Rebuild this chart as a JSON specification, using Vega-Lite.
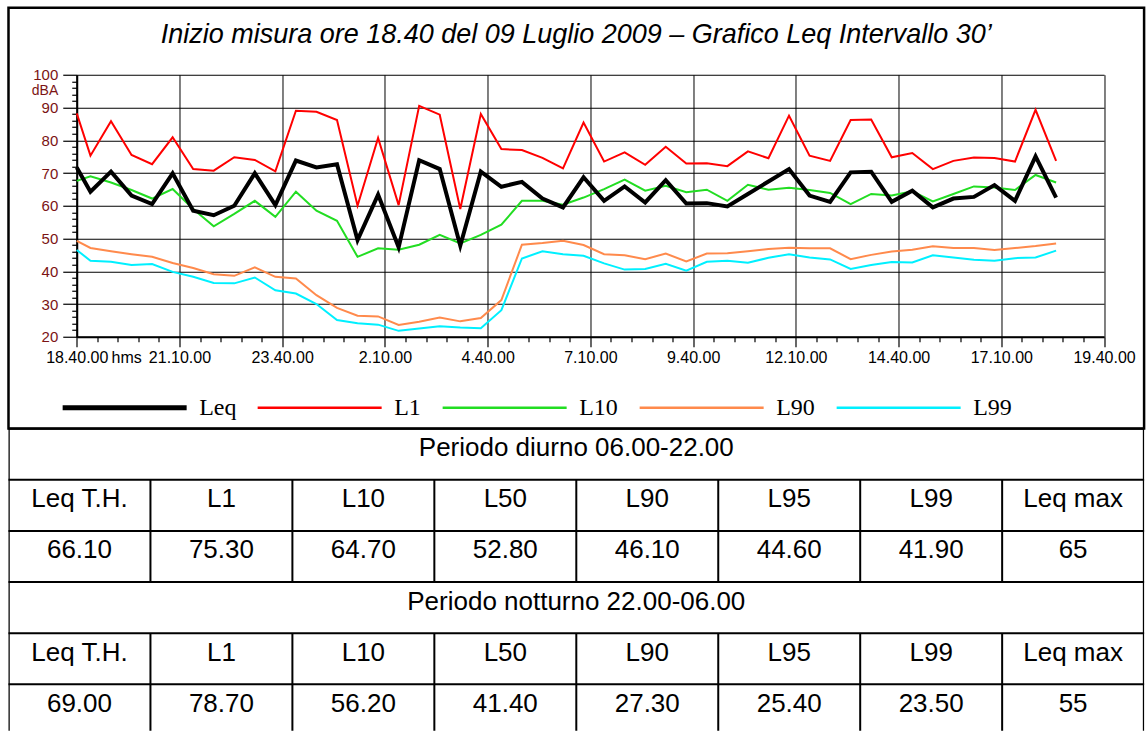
{
  "$schema": "https://vega.github.io/schema/vega-lite/v6.json",
  "padding": {"left": 6.5, "top": 5.75, "right": 0, "bottom": 0},
  "bounds": "flush",
  "spacing": 0,
  "config": {
    "view": {"stroke": null},
    "font": "Liberation Sans",
    "axis": {"grid": false, "domainColor": "#000", "tickColor": "#000", "labelColor": "#000", "labelOverlap": false, "labelFlush": false},
    "legend": {"padding": 0}
  },
  "vconcat": [
    {
      "width": 1135.6,
      "height": 420.7,
      "view": {"stroke": "#000", "strokeWidth": 2.5},
      "title": {"text": "Inizio misura ore 18.40 del 09 Luglio 2009 –  Grafico Leq Intervallo 30’", "font": "Liberation Sans", "fontSize": 27, "fontStyle": "italic", "fontWeight": "normal", "color": "#000", "anchor": "middle", "frame": "group", "baseline": "middle", "offset": -54},
      "data": {"values": [
        {"t": "2009-07-09T18:40:00", "Leq": 71.7, "L1": 88.2, "L10": 67.6, "L90": 49.3, "L99": 46.5},
        {"t": "2009-07-09T19:00:00", "Leq": 64.3, "L1": 75.3, "L10": 69.0, "L90": 47.1, "L99": 43.2},
        {"t": "2009-07-09T19:30:00", "Leq": 70.4, "L1": 85.8, "L10": 67.1, "L90": 46.1, "L99": 42.9},
        {"t": "2009-07-09T20:00:00", "Leq": 63.1, "L1": 75.5, "L10": 64.8, "L90": 45.2, "L99": 41.9},
        {"t": "2009-07-09T20:30:00", "Leq": 60.5, "L1": 72.7, "L10": 62.2, "L90": 44.4, "L99": 42.2},
        {"t": "2009-07-09T21:00:00", "Leq": 69.9, "L1": 80.9, "L10": 65.1, "L90": 42.5, "L99": 39.8},
        {"t": "2009-07-09T21:30:00", "Leq": 58.5, "L1": 71.2, "L10": 59.0, "L90": 41.0, "L99": 38.3},
        {"t": "2009-07-09T22:00:00", "Leq": 57.1, "L1": 70.7, "L10": 53.7, "L90": 39.1, "L99": 36.4},
        {"t": "2009-07-09T22:30:00", "Leq": 60.0, "L1": 74.8, "L10": 57.5, "L90": 38.6, "L99": 36.3},
        {"t": "2009-07-09T23:00:00", "Leq": 69.9, "L1": 74.0, "L10": 61.5, "L90": 41.2, "L99": 38.1},
        {"t": "2009-07-09T23:30:00", "Leq": 60.2, "L1": 70.5, "L10": 56.6, "L90": 38.3, "L99": 34.2},
        {"t": "2009-07-10T00:00:00", "Leq": 73.8, "L1": 89.0, "L10": 64.3, "L90": 37.8, "L99": 33.2},
        {"t": "2009-07-10T00:30:00", "Leq": 71.7, "L1": 88.7, "L10": 58.5, "L90": 32.7, "L99": 30.0},
        {"t": "2009-07-10T01:00:00", "Leq": 72.7, "L1": 86.2, "L10": 55.4, "L90": 28.8, "L99": 25.1},
        {"t": "2009-07-10T01:30:00", "Leq": 49.5, "L1": 60.0, "L10": 44.4, "L90": 26.4, "L99": 24.1},
        {"t": "2009-07-10T02:00:00", "Leq": 63.4, "L1": 80.7, "L10": 47.0, "L90": 26.2, "L99": 23.7},
        {"t": "2009-07-10T02:30:00", "Leq": 47.3, "L1": 60.2, "L10": 46.6, "L90": 23.6, "L99": 21.8},
        {"t": "2009-07-10T03:00:00", "Leq": 73.9, "L1": 90.5, "L10": 48.1, "L90": 24.6, "L99": 22.5},
        {"t": "2009-07-10T03:30:00", "Leq": 71.2, "L1": 87.8, "L10": 51.1, "L90": 25.9, "L99": 23.2},
        {"t": "2009-07-10T04:00:00", "Leq": 47.8, "L1": 59.0, "L10": 48.5, "L90": 24.7, "L99": 22.8},
        {"t": "2009-07-10T04:30:00", "Leq": 70.4, "L1": 88.0, "L10": 51.1, "L90": 25.7, "L99": 22.6},
        {"t": "2009-07-10T05:00:00", "Leq": 65.8, "L1": 77.3, "L10": 54.2, "L90": 31.2, "L99": 28.1},
        {"t": "2009-07-10T05:30:00", "Leq": 67.3, "L1": 77.0, "L10": 61.5, "L90": 48.1, "L99": 43.9},
        {"t": "2009-07-10T06:00:00", "Leq": 62.2, "L1": 74.6, "L10": 61.5, "L90": 48.6, "L99": 46.1},
        {"t": "2009-07-10T06:30:00", "Leq": 59.5, "L1": 71.4, "L10": 60.3, "L90": 49.3, "L99": 45.2},
        {"t": "2009-07-10T07:00:00", "Leq": 68.7, "L1": 85.4, "L10": 62.5, "L90": 48.0, "L99": 44.7},
        {"t": "2009-07-10T07:30:00", "Leq": 61.5, "L1": 73.5, "L10": 65.1, "L90": 45.2, "L99": 42.4},
        {"t": "2009-07-10T08:00:00", "Leq": 65.9, "L1": 76.3, "L10": 68.0, "L90": 44.9, "L99": 40.5},
        {"t": "2009-07-10T08:30:00", "Leq": 61.0, "L1": 72.5, "L10": 64.6, "L90": 43.7, "L99": 40.7},
        {"t": "2009-07-10T09:00:00", "Leq": 67.8, "L1": 78.0, "L10": 66.1, "L90": 45.4, "L99": 42.3},
        {"t": "2009-07-10T09:30:00", "Leq": 60.7, "L1": 72.9, "L10": 64.1, "L90": 43.0, "L99": 40.2},
        {"t": "2009-07-10T10:00:00", "Leq": 60.8, "L1": 73.0, "L10": 64.9, "L90": 45.4, "L99": 42.9},
        {"t": "2009-07-10T10:30:00", "Leq": 59.8, "L1": 72.1, "L10": 61.5, "L90": 45.5, "L99": 43.2},
        {"t": "2009-07-10T11:00:00", "Leq": 63.6, "L1": 76.6, "L10": 66.4, "L90": 46.1, "L99": 42.6},
        {"t": "2009-07-10T11:30:00", "Leq": 67.4, "L1": 74.5, "L10": 64.9, "L90": 46.8, "L99": 44.1},
        {"t": "2009-07-10T12:00:00", "Leq": 71.2, "L1": 87.5, "L10": 65.5, "L90": 47.2, "L99": 45.2},
        {"t": "2009-07-10T12:30:00", "Leq": 63.1, "L1": 75.3, "L10": 64.8, "L90": 47.0, "L99": 44.2},
        {"t": "2009-07-10T13:00:00", "Leq": 61.2, "L1": 73.7, "L10": 63.9, "L90": 47.0, "L99": 43.6},
        {"t": "2009-07-10T13:30:00", "Leq": 70.2, "L1": 86.2, "L10": 60.5, "L90": 43.7, "L99": 40.7},
        {"t": "2009-07-10T14:00:00", "Leq": 70.4, "L1": 86.3, "L10": 63.6, "L90": 45.0, "L99": 41.9},
        {"t": "2009-07-10T14:30:00", "Leq": 61.2, "L1": 74.8, "L10": 63.1, "L90": 46.0, "L99": 42.8},
        {"t": "2009-07-10T15:00:00", "Leq": 64.6, "L1": 76.1, "L10": 64.4, "L90": 46.6, "L99": 42.7},
        {"t": "2009-07-10T15:30:00", "Leq": 59.5, "L1": 71.2, "L10": 61.3, "L90": 47.6, "L99": 44.9},
        {"t": "2009-07-10T16:00:00", "Leq": 62.2, "L1": 73.7, "L10": 63.6, "L90": 47.1, "L99": 44.2},
        {"t": "2009-07-10T16:30:00", "Leq": 62.7, "L1": 74.7, "L10": 65.9, "L90": 47.1, "L99": 43.5},
        {"t": "2009-07-10T17:00:00", "Leq": 66.3, "L1": 74.6, "L10": 65.6, "L90": 46.5, "L99": 43.2},
        {"t": "2009-07-10T17:30:00", "Leq": 61.5, "L1": 73.5, "L10": 64.8, "L90": 47.1, "L99": 44.0},
        {"t": "2009-07-10T18:00:00", "Leq": 75.1, "L1": 89.3, "L10": 69.4, "L90": 47.7, "L99": 44.2},
        {"t": "2009-07-10T18:30:00", "Leq": 62.5, "L1": 73.7, "L10": 67.1, "L90": 48.5, "L99": 46.3}
      ]},
      "transform": [{"fold": ["L99", "L90", "L10", "L1", "Leq"], "as": ["serie", "dBA"]}],
      "layer": [
        {
          "mark": {"type": "point", "opacity": 0},
          "encoding": {
            "x": {"field": "t", "type": "temporal",
              "scale": {"domain": [{"year": 2009, "month": 7, "date": 9, "hours": 18, "minutes": 40}, {"year": 2009, "month": 7, "date": 10, "hours": 19, "minutes": 40}], "range": [68.25, 1095.55]},
              "axis": {"orient": "bottom", "offset": -91.7, "tickSize": -262, "tickWidth": 1, "labels": false, "domain": false, "title": null,
                "values": [
                  {"year": 2009, "month": 7, "date": 9, "hours": 18, "minutes": 40},
                  {"year": 2009, "month": 7, "date": 9, "hours": 21, "minutes": 10},
                  {"year": 2009, "month": 7, "date": 9, "hours": 23, "minutes": 40},
                  {"year": 2009, "month": 7, "date": 10, "hours": 2, "minutes": 10},
                  {"year": 2009, "month": 7, "date": 10, "hours": 4, "minutes": 40},
                  {"year": 2009, "month": 7, "date": 10, "hours": 7, "minutes": 10},
                  {"year": 2009, "month": 7, "date": 10, "hours": 9, "minutes": 40},
                  {"year": 2009, "month": 7, "date": 10, "hours": 12, "minutes": 10},
                  {"year": 2009, "month": 7, "date": 10, "hours": 14, "minutes": 40},
                  {"year": 2009, "month": 7, "date": 10, "hours": 17, "minutes": 10},
                  {"year": 2009, "month": 7, "date": 10, "hours": 19, "minutes": 40}
                ]}},
            "y": {"field": "dBA", "type": "quantitative",
              "scale": {"domain": [20, 100], "range": [329, 67], "nice": false, "zero": false},
              "axis": {"orient": "left", "offset": -68.25, "tickSize": -1027.3, "tickWidth": 1, "labels": false, "domain": false, "title": null,
                "values": [20, 30, 40, 50, 60, 70, 80, 90, 100]}}
          }
        },
        {
          "mark": {"type": "point", "opacity": 0},
          "encoding": {
            "x": {"field": "t", "type": "temporal",
              "scale": {"domain": [{"year": 2009, "month": 7, "date": 9, "hours": 18, "minutes": 40}, {"year": 2009, "month": 7, "date": 10, "hours": 19, "minutes": 40}], "range": [68.25, 1095.55]},
              "axis": {"orient": "bottom", "offset": -91.7, "tickSize": 5, "tickWidth": 1.2, "labels": false, "domain": false, "title": null,
                "values": [
                  {"year": 2009, "month": 7, "date": 9, "hours": 19, "minutes": 10},
                  {"year": 2009, "month": 7, "date": 9, "hours": 19, "minutes": 40},
                  {"year": 2009, "month": 7, "date": 9, "hours": 20, "minutes": 10},
                  {"year": 2009, "month": 7, "date": 9, "hours": 20, "minutes": 40},
                  {"year": 2009, "month": 7, "date": 9, "hours": 21, "minutes": 40},
                  {"year": 2009, "month": 7, "date": 9, "hours": 22, "minutes": 10},
                  {"year": 2009, "month": 7, "date": 9, "hours": 22, "minutes": 40},
                  {"year": 2009, "month": 7, "date": 9, "hours": 23, "minutes": 10},
                  {"year": 2009, "month": 7, "date": 10, "hours": 0, "minutes": 10},
                  {"year": 2009, "month": 7, "date": 10, "hours": 0, "minutes": 40},
                  {"year": 2009, "month": 7, "date": 10, "hours": 1, "minutes": 10},
                  {"year": 2009, "month": 7, "date": 10, "hours": 1, "minutes": 40},
                  {"year": 2009, "month": 7, "date": 10, "hours": 2, "minutes": 40},
                  {"year": 2009, "month": 7, "date": 10, "hours": 3, "minutes": 10},
                  {"year": 2009, "month": 7, "date": 10, "hours": 3, "minutes": 40},
                  {"year": 2009, "month": 7, "date": 10, "hours": 4, "minutes": 10},
                  {"year": 2009, "month": 7, "date": 10, "hours": 5, "minutes": 10},
                  {"year": 2009, "month": 7, "date": 10, "hours": 5, "minutes": 40},
                  {"year": 2009, "month": 7, "date": 10, "hours": 6, "minutes": 10},
                  {"year": 2009, "month": 7, "date": 10, "hours": 6, "minutes": 40},
                  {"year": 2009, "month": 7, "date": 10, "hours": 7, "minutes": 40},
                  {"year": 2009, "month": 7, "date": 10, "hours": 8, "minutes": 10},
                  {"year": 2009, "month": 7, "date": 10, "hours": 8, "minutes": 40},
                  {"year": 2009, "month": 7, "date": 10, "hours": 9, "minutes": 10},
                  {"year": 2009, "month": 7, "date": 10, "hours": 10, "minutes": 10},
                  {"year": 2009, "month": 7, "date": 10, "hours": 10, "minutes": 40},
                  {"year": 2009, "month": 7, "date": 10, "hours": 11, "minutes": 10},
                  {"year": 2009, "month": 7, "date": 10, "hours": 11, "minutes": 40},
                  {"year": 2009, "month": 7, "date": 10, "hours": 12, "minutes": 40},
                  {"year": 2009, "month": 7, "date": 10, "hours": 13, "minutes": 10},
                  {"year": 2009, "month": 7, "date": 10, "hours": 13, "minutes": 40},
                  {"year": 2009, "month": 7, "date": 10, "hours": 14, "minutes": 10},
                  {"year": 2009, "month": 7, "date": 10, "hours": 15, "minutes": 10},
                  {"year": 2009, "month": 7, "date": 10, "hours": 15, "minutes": 40},
                  {"year": 2009, "month": 7, "date": 10, "hours": 16, "minutes": 10},
                  {"year": 2009, "month": 7, "date": 10, "hours": 16, "minutes": 40},
                  {"year": 2009, "month": 7, "date": 10, "hours": 17, "minutes": 40},
                  {"year": 2009, "month": 7, "date": 10, "hours": 18, "minutes": 10},
                  {"year": 2009, "month": 7, "date": 10, "hours": 18, "minutes": 40},
                  {"year": 2009, "month": 7, "date": 10, "hours": 19, "minutes": 10}
                ]}},
            "y": {"field": "dBA", "type": "quantitative",
              "scale": {"domain": [20, 100], "range": [329, 67], "nice": false, "zero": false},
              "axis": {"orient": "left", "offset": -68.25, "tickSize": 5, "tickWidth": 1.2, "labels": false, "domain": false, "title": null,
                "values": [22, 24, 26, 28, 32, 34, 36, 38, 42, 44, 46, 48, 52, 54, 56, 58, 62, 64, 66, 68, 72, 74, 76, 78, 82, 84, 86, 88, 92, 94, 96, 98]}}
          }
        },
        {
          "mark": {"type": "line"},
          "encoding": {
            "x": {"field": "t", "type": "temporal",
              "scale": {"domain": [{"year": 2009, "month": 7, "date": 9, "hours": 18, "minutes": 40}, {"year": 2009, "month": 7, "date": 10, "hours": 19, "minutes": 40}], "range": [68.25, 1095.55]},
              "axis": {"orient": "bottom", "offset": -91.7, "format": "%-H.%M.%S", "tickSize": 10, "tickWidth": 1.2, "domainWidth": 2, "labelFontSize": 16, "labelPadding": 3, "labelColor": "#000",
                "title": "hms", "titleFontSize": 16, "titleFontWeight": "normal", "titleColor": "#000", "titleX": 102.5, "titleY": 13, "titleAlign": "left", "titleBaseline": "top",
                "values": [
                  {"year": 2009, "month": 7, "date": 9, "hours": 18, "minutes": 40},
                  {"year": 2009, "month": 7, "date": 9, "hours": 21, "minutes": 10},
                  {"year": 2009, "month": 7, "date": 9, "hours": 23, "minutes": 40},
                  {"year": 2009, "month": 7, "date": 10, "hours": 2, "minutes": 10},
                  {"year": 2009, "month": 7, "date": 10, "hours": 4, "minutes": 40},
                  {"year": 2009, "month": 7, "date": 10, "hours": 7, "minutes": 10},
                  {"year": 2009, "month": 7, "date": 10, "hours": 9, "minutes": 40},
                  {"year": 2009, "month": 7, "date": 10, "hours": 12, "minutes": 10},
                  {"year": 2009, "month": 7, "date": 10, "hours": 14, "minutes": 40},
                  {"year": 2009, "month": 7, "date": 10, "hours": 17, "minutes": 10},
                  {"year": 2009, "month": 7, "date": 10, "hours": 19, "minutes": 40}
                ]}},
            "y": {"field": "dBA", "type": "quantitative",
              "scale": {"domain": [20, 100], "range": [329, 67], "nice": false, "zero": false},
              "axis": {"orient": "left", "offset": -68.25, "values": [20, 30, 40, 50, 60, 70, 80, 90, 100], "tickSize": 14, "tickWidth": 1.2, "domainWidth": 2, "labelFontSize": 15, "labelPadding": 5, "labelColor": "#7b1414",
                "title": "dBA", "titleColor": "#7b1414", "titleFontSize": 14, "titleFontWeight": "normal", "titleAngle": 0, "titleX": -19, "titleY": 82.5, "titleAlign": "right", "titleBaseline": "middle"}},
            "color": {"field": "serie", "type": "nominal",
              "scale": {"domain": ["Leq", "L1", "L10", "L90", "L99"], "range": ["#000000", "#ff0000", "#22dd22", "#ff8a4c", "#00f0ff"]},
              "legend": {"orient": "none", "legendX": 104.15, "legendY": 388, "direction": "horizontal", "title": null, "symbolType": "stroke", "symbolSize": 15376, "symbolStrokeWidth": 2.5,
                "labelFont": "Liberation Serif", "labelFontSize": 24, "labelColor": "#000", "labelOffset": 62.5, "columnPadding": 16, "labelLimit": 0,
                "encode": {"symbols": {"update": {
                  "stroke": {"signal": "datum.value === 'Leq' ? '#000000' : datum.value === 'L1' ? '#ff0000' : datum.value === 'L10' ? '#92d050' : datum.value === 'L90' ? '#f79646' : '#00b0f0'"},
                  "strokeWidth": {"signal": "datum.value === 'Leq' ? 5 : 2.5"}
                }}}}},
            "strokeWidth": {"condition": {"test": "datum.serie === 'Leq'", "value": 4}, "value": 2}
          }
        }
      ],
      "resolve": {"axis": {"x": "independent", "y": "independent"}}
    },
    {
      "width": 1135.6,
      "height": 302,
      "view": {"stroke": null},
      "layer": [
        {
          "data": {"values": [
            {"row": 0, "c1": 0, "c2": 8}, {"row": 1, "c1": 0, "c2": 8}, {"row": 2, "c1": 0, "c2": 8},
            {"row": 3, "c1": 0, "c2": 8}, {"row": 4, "c1": 0, "c2": 8}, {"row": 5, "c1": 0, "c2": 8}
          ]},
          "mark": {"type": "rule", "color": "#000", "strokeWidth": 2},
          "encoding": {
            "y": {"field": "row", "type": "quantitative", "scale": {"domain": [0, 5.91], "reverse": true, "nice": false, "zero": false}, "axis": null},
            "x": {"field": "c1", "type": "quantitative", "scale": {"domain": [0, 8], "nice": false}, "axis": null},
            "x2": {"field": "c2"}
          }
        },
        {
          "data": {"values": [
            {"col": 0, "r1": 0, "r2": 6}, {"col": 8, "r1": 0, "r2": 6}
          ]},
          "mark": {"type": "rule", "color": "#000", "strokeWidth": 2.5, "clip": true},
          "encoding": {
            "x": {"field": "col", "type": "quantitative", "scale": {"domain": [0, 8], "nice": false}, "axis": null},
            "y": {"field": "r1", "type": "quantitative", "scale": {"domain": [0, 5.91], "reverse": true, "nice": false, "zero": false}, "axis": null},
            "y2": {"field": "r2"}
          }
        },
        {
          "data": {"values": [
            {"col": 1, "r1": 1, "r2": 3}, {"col": 2, "r1": 1, "r2": 3}, {"col": 3, "r1": 1, "r2": 3}, {"col": 4, "r1": 1, "r2": 3},
            {"col": 5, "r1": 1, "r2": 3}, {"col": 6, "r1": 1, "r2": 3}, {"col": 7, "r1": 1, "r2": 3},
            {"col": 1, "r1": 4, "r2": 6}, {"col": 2, "r1": 4, "r2": 6}, {"col": 3, "r1": 4, "r2": 6}, {"col": 4, "r1": 4, "r2": 6},
            {"col": 5, "r1": 4, "r2": 6}, {"col": 6, "r1": 4, "r2": 6}, {"col": 7, "r1": 4, "r2": 6}
          ]},
          "mark": {"type": "rule", "color": "#000", "strokeWidth": 2, "clip": true},
          "encoding": {
            "x": {"field": "col", "type": "quantitative", "scale": {"domain": [0, 8], "nice": false}, "axis": null},
            "y": {"field": "r1", "type": "quantitative", "scale": {"domain": [0, 5.91], "reverse": true, "nice": false, "zero": false}, "axis": null},
            "y2": {"field": "r2"}
          }
        },
        {
          "data": {"values": [
            {"row": 0, "text": "Periodo diurno 06.00-22.00"},
            {"row": 3, "text": "Periodo notturno 22.00-06.00"}
          ]},
          "mark": {"type": "text", "font": "Liberation Sans", "fontSize": 26, "color": "#000", "align": "center", "baseline": "middle", "dy": 19.5},
          "encoding": {
            "y": {"field": "row", "type": "quantitative", "scale": {"domain": [0, 5.91], "reverse": true, "nice": false, "zero": false}, "axis": null},
            "text": {"field": "text"}
          }
        },
        {
          "data": {"values": [
            {"row": 1, "col": 0, "text": "Leq T.H."}, {"row": 1, "col": 1, "text": "L1"}, {"row": 1, "col": 2, "text": "L10"}, {"row": 1, "col": 3, "text": "L50"},
            {"row": 1, "col": 4, "text": "L90"}, {"row": 1, "col": 5, "text": "L95"}, {"row": 1, "col": 6, "text": "L99"}, {"row": 1, "col": 7, "text": "Leq max"},
            {"row": 2, "col": 0, "text": "66.10"}, {"row": 2, "col": 1, "text": "75.30"}, {"row": 2, "col": 2, "text": "64.70"}, {"row": 2, "col": 3, "text": "52.80"},
            {"row": 2, "col": 4, "text": "46.10"}, {"row": 2, "col": 5, "text": "44.60"}, {"row": 2, "col": 6, "text": "41.90"}, {"row": 2, "col": 7, "text": "65"},
            {"row": 4, "col": 0, "text": "Leq T.H."}, {"row": 4, "col": 1, "text": "L1"}, {"row": 4, "col": 2, "text": "L10"}, {"row": 4, "col": 3, "text": "L50"},
            {"row": 4, "col": 4, "text": "L90"}, {"row": 4, "col": 5, "text": "L95"}, {"row": 4, "col": 6, "text": "L99"}, {"row": 4, "col": 7, "text": "Leq max"},
            {"row": 5, "col": 0, "text": "69.00"}, {"row": 5, "col": 1, "text": "78.70"}, {"row": 5, "col": 2, "text": "56.20"}, {"row": 5, "col": 3, "text": "41.40"},
            {"row": 5, "col": 4, "text": "27.30"}, {"row": 5, "col": 5, "text": "25.40"}, {"row": 5, "col": 6, "text": "23.50"}, {"row": 5, "col": 7, "text": "55"}
          ]},
          "mark": {"type": "text", "font": "Liberation Sans", "fontSize": 26, "color": "#000", "align": "center", "baseline": "middle", "dx": 70.97, "dy": 19.5},
          "encoding": {
            "x": {"field": "col", "type": "quantitative", "scale": {"domain": [0, 8], "nice": false}, "axis": null},
            "y": {"field": "row", "type": "quantitative", "scale": {"domain": [0, 5.91], "reverse": true, "nice": false, "zero": false}, "axis": null},
            "text": {"field": "text"}
          }
        }
      ]
    }
  ]
}
